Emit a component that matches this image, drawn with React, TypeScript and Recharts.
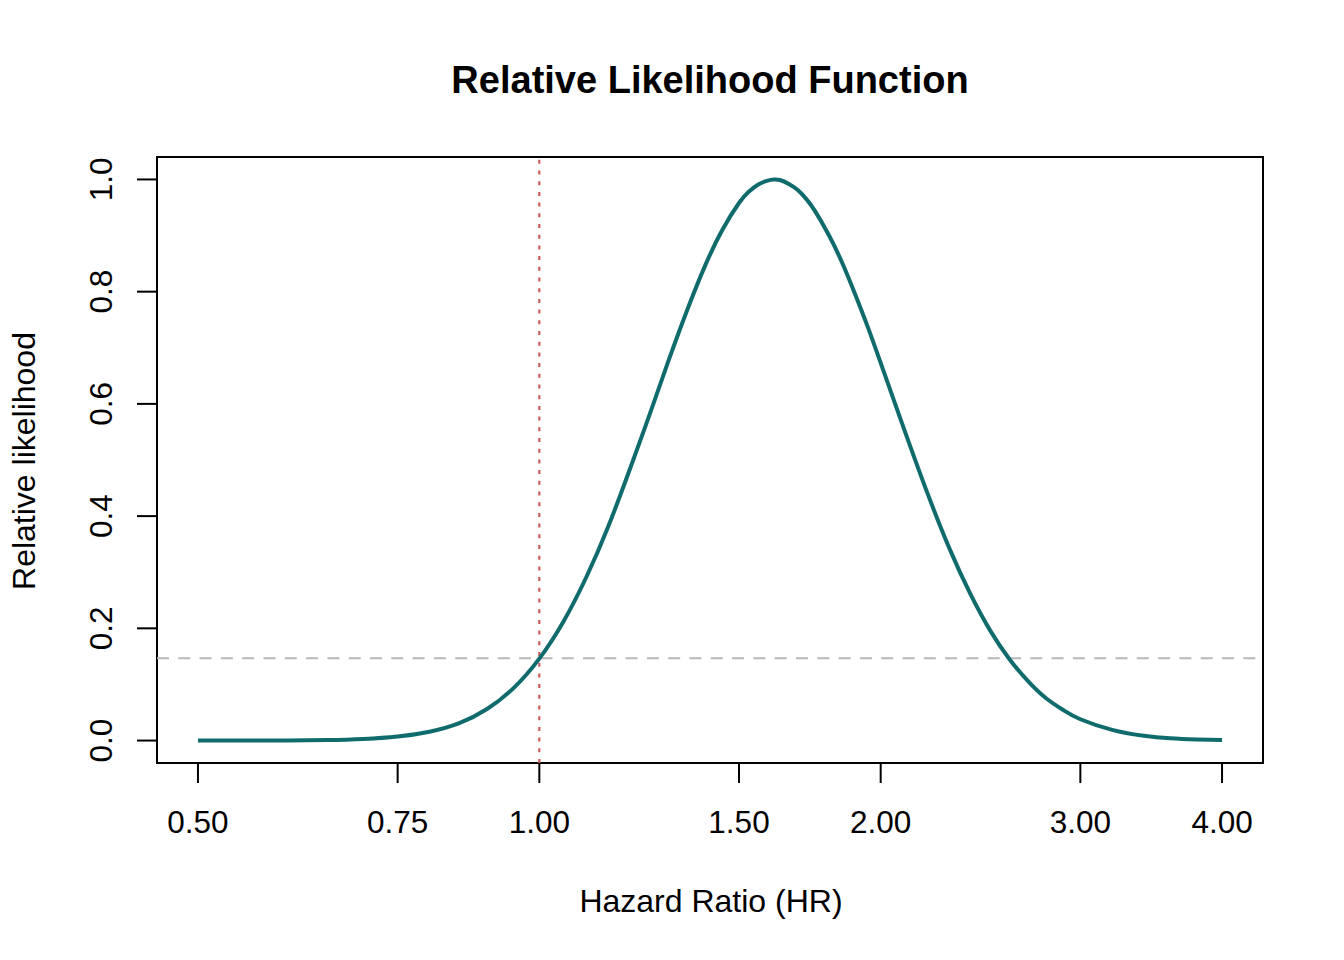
import React from "react";
import {
  LineChart,
  Line,
  XAxis,
  YAxis,
  ReferenceLine,
  ReferenceArea,
} from "recharts";

// Hazard ratio grid (x) and relative likelihood (y)
const hrValues = [
  0.5, 0.55, 0.6, 0.65, 0.7, 0.75, 0.8, 0.85, 0.9, 0.95, 1.0, 1.05, 1.1, 1.15,
  1.2, 1.25, 1.3, 1.35, 1.4, 1.45, 1.5, 1.53, 1.56, 1.59, 1.61, 1.63, 1.66,
  1.69, 1.72, 1.75, 1.8, 1.85, 1.9, 1.95, 2.0, 2.1, 2.2, 2.3, 2.4, 2.5, 2.6,
  2.7, 2.8, 2.9, 3.0, 3.2, 3.4, 3.6, 3.8, 4.0,
];
const likelihoodValues = [
  0.0, 0.0001, 0.0003, 0.0009, 0.0028, 0.0071, 0.0158, 0.0311, 0.0567, 0.0944,
  0.146, 0.2117, 0.291, 0.381, 0.48, 0.579, 0.677, 0.767, 0.846, 0.91, 0.958,
  0.978, 0.991, 0.998, 1.0, 0.999, 0.992, 0.981, 0.965, 0.944, 0.901, 0.851,
  0.794, 0.735, 0.673, 0.552, 0.44, 0.342, 0.261, 0.195, 0.144, 0.105, 0.075,
  0.054, 0.038, 0.019, 0.009, 0.004, 0.002, 0.001,
];
const xTicks = [0.5, 0.75, 1.0, 1.5, 2.0, 3.0, 4.0];
const yTicks = [0, 0.2, 0.4, 0.6, 0.8, 1.0];
const nullHR = 1.0;
const cutoff = 0.1465;

const title = "Relative Likelihood Function";
const xTitle = "Hazard Ratio (HR)";
const yTitle = "Relative likelihood";

const data = hrValues.map((hr, i) => ({ hr, lik: likelihoodValues[i] }));

// axis extents (R style 4% padding, x on log scale)
const X_MIN = 0.5 * Math.pow(2, -0.12);
const X_MAX = 4 * Math.pow(2, 0.12);
const Y_MIN = -0.04;
const Y_MAX = 1.04;

const FONT = '"Liberation Sans", Arial, Helvetica, sans-serif';

const YTick = (props: any) => {
  const { x, y, payload } = props;
  return (
    <text
      x={x}
      y={y}
      transform={`rotate(-90, ${x}, ${y})`}
      textAnchor="middle"
      fontSize={31.5}
      fontFamily={FONT}
      fill="#000"
    >
      {Number(payload.value).toFixed(1)}
    </text>
  );
};

export default function App() {
  return (
    <div
      style={{
        position: "absolute",
        left: 0,
        top: 0,
        width: 1344,
        height: 960,
        background: "#fff",
        fontFamily: FONT,
      }}
    >
      <LineChart
        width={1344}
        height={960}
        data={data}
        margin={{ top: 157, right: 81, bottom: 117, left: 77 }}
      >
        <XAxis
          dataKey="hr"
          type="number"
          scale="log"
          domain={[X_MIN, X_MAX]}
          allowDataOverflow
          ticks={xTicks}
          interval={0}
          tickFormatter={(v: number) => v.toFixed(2)}
          height={80}
          axisLine={false}
          tickLine={{ stroke: "#000", strokeWidth: 2 }}
          tickSize={20}
          tickMargin={28}
          tick={{ fill: "#000", fontSize: 31.5, fontFamily: FONT }}
        />
        <YAxis
          type="number"
          domain={[Y_MIN, Y_MAX]}
          allowDataOverflow
          ticks={yTicks}
          interval={0}
          width={80}
          axisLine={false}
          tickLine={{ stroke: "#000", strokeWidth: 2 }}
          tickSize={20}
          tickMargin={25}
          tick={<YTick />}
        />
        <ReferenceLine
          y={cutoff}
          stroke="#b8b8b8"
          strokeWidth={2}
          strokeDasharray="12 9.3"
        />
        <ReferenceLine
          x={nullHR}
          stroke="#cd5c5c"
          strokeWidth={2.2}
          strokeDasharray="4 6.7"
        />
        <Line
          type="natural"
          dataKey="lik"
          stroke="#106c6c"
          strokeWidth={4}
          dot={false}
          activeDot={false}
          isAnimationActive={false}
        />
        <ReferenceArea
          x1={X_MIN}
          x2={X_MAX}
          y1={Y_MIN}
          y2={Y_MAX}
          fill="none"
          fillOpacity={0}
          stroke="#000"
          strokeWidth={2}
          ifOverflow="visible"
        />
      </LineChart>
      <svg
        width={1344}
        height={960}
        style={{ position: "absolute", left: 0, top: 0, pointerEvents: "none" }}
      >
        <text
          x={710}
          y={93}
          textAnchor="middle"
          fontSize={38}
          fontWeight="bold"
          fontFamily={FONT}
          fill="#000"
        >
          {title}
        </text>
        <text
          x={711}
          y={912}
          textAnchor="middle"
          fontSize={32}
          fontFamily={FONT}
          fill="#000"
        >
          {xTitle}
        </text>
        <text
          x={35}
          y={461}
          transform="rotate(-90, 35, 461)"
          textAnchor="middle"
          fontSize={32}
          fontFamily={FONT}
          fill="#000"
        >
          {yTitle}
        </text>
      </svg>
    </div>
  );
}
